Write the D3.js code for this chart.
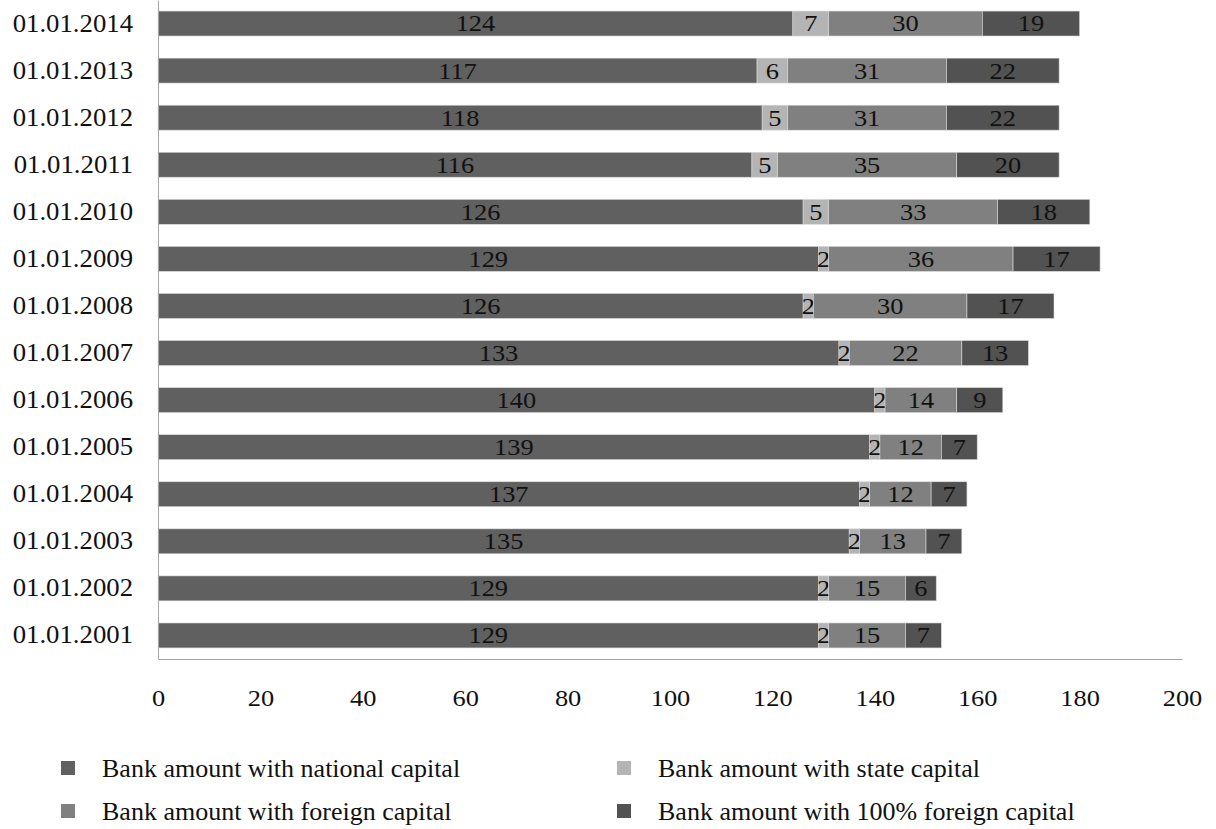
<!DOCTYPE html>
<html>
<head>
<meta charset="utf-8">
<script src="https://cdn.jsdelivr.net/npm/d3@7"></script>
<style>
  html, body { margin: 0; padding: 0; background: #fff; }
  svg { display: block; font-family: "Liberation Serif", "Times New Roman", serif; }
</style>
</head>
<body>
<svg id="chart" width="1216" height="829"></svg>
<script>
// Bank counts by ownership type, per reporting date (top to bottom)
const dates = ["01.01.2014","01.01.2013","01.01.2012","01.01.2011","01.01.2010","01.01.2009","01.01.2008",
               "01.01.2007","01.01.2006","01.01.2005","01.01.2004","01.01.2003","01.01.2002","01.01.2001"];
const nationalCapital   = [124,117,118,116,126,129,126,133,140,139,137,135,129,129];
const stateCapital      = [7,6,5,5,5,2,2,2,2,2,2,2,2,2];
const foreignCapital    = [30,31,31,35,33,36,30,22,14,12,12,13,15,15];
const fullForeignCapital= [19,22,22,20,18,17,17,13,9,7,7,7,6,7];
const seriesNames = ["Bank amount with national capital","Bank amount with state capital",
                     "Bank amount with foreign capital","Bank amount with 100% foreign capital"];
const xTicks = [0,20,40,60,80,100,120,140,160,180,200];

const colors = ["#606060","#b4b4b4","#808080","#525252"];
const keys = ["national","state","foreign","full"];

const rows = dates.map((d,i) => ({date:d, national:nationalCapital[i], state:stateCapital[i],
                                  foreign:foreignCapital[i], full:fullForeignCapital[i]}));

const svg = d3.select("#chart");
const plotLeft = 158, plotRight = 1182, plotTop = 0, plotBottom = 659;
const textColor = "#111";

const x = d3.scaleLinear().domain([0,200]).range([plotLeft,plotRight]);
const y = d3.scaleBand().domain(dates).range([plotTop,plotBottom]).paddingInner(0.47).paddingOuter(0.235);

const stacked = d3.stack().keys(keys)(rows);

const layers = svg.append("g").selectAll("g").data(stacked).join("g")
  .attr("fill", (d,i) => colors[i]);

layers.selectAll("rect").data(d => d).join("rect")
  .attr("x", d => x(d[0]))
  .attr("y", d => y(d.data.date))
  .attr("width", d => x(d[1]) - x(d[0]))
  .attr("height", y.bandwidth())
  .attr("stroke", "#d9d9d9")
  .attr("stroke-width", 0.6);

// value labels centred in each segment (slightly wide serif figures)
layers.each(function(layer) {
  d3.select(this).selectAll("text").data(layer).join("text")
    .attr("transform", d => `translate(${(x(d[0]) + x(d[1])) / 2},${y(d.data.date) + y.bandwidth() / 2}) scale(1.1,1)`)
    .attr("dy", "0.33em")
    .attr("text-anchor", "middle")
    .attr("fill", textColor)
    .attr("font-size", 24)
    .text(d => d[1] - d[0]);
});

// axes
const xAxis = svg.append("g").attr("transform", `translate(0,${plotBottom})`)
  .call(d3.axisBottom(x).tickValues(xTicks).tickSize(0).tickPadding(30));
xAxis.select(".domain").attr("stroke", "#a6a6a6");
xAxis.selectAll("text").attr("font-size", 24).attr("fill", textColor)
  .attr("font-family", "Liberation Serif, Times New Roman, serif")
  .attr("transform", "scale(1.1,1)");

const yAxis = svg.append("g").attr("transform", `translate(${plotLeft},0)`)
  .call(d3.axisLeft(y).tickSize(0));
yAxis.select(".domain").attr("stroke", "#a6a6a6");
yAxis.selectAll("text").attr("font-size", 25).attr("fill", textColor)
  .attr("font-family", "Liberation Serif, Times New Roman, serif")
  .attr("x", -25 / 1.07)
  .attr("transform", "scale(1.07,1)");

// legend, two columns
const legendPos = [[61,768],[617,768],[61,811],[617,811]];
const legend = svg.append("g").selectAll("g").data(seriesNames).join("g")
  .attr("transform", (d,i) => `translate(${legendPos[i][0]},${legendPos[i][1]})`);
legend.append("rect").attr("x", 0).attr("y", -7).attr("width", 14).attr("height", 14)
  .attr("fill", (d,i) => colors[i]);
legend.append("text").attr("x", 41).attr("dy", "0.33em")
  .attr("font-size", 26).attr("fill", textColor).text(d => d);
</script>
</body>
</html>
